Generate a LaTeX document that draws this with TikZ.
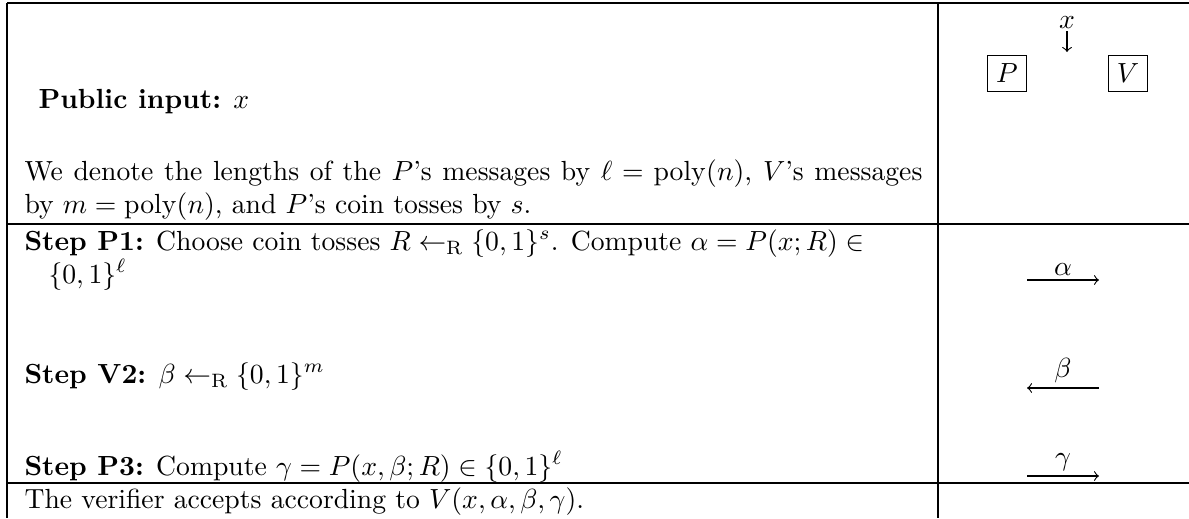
\documentclass[tikz,border=0pt]{standalone}
\usepackage{amsmath}

\begin{document}
\begin{tikzpicture}[x=0.3614pt, y=-0.3614pt,
    rowtext/.style={anchor=base west, inner sep=0pt},
    party/.style={draw, line width=0.4pt, inner sep=3pt},
    msg/.style={->, line width=0.4pt}]
    \useasboundingbox (0,0) rectangle (1189,518);

    % Table rules
    \draw (7,3) -- (1189,3);
    \draw (7,224) -- (1189,224);
    \draw (7,483) -- (1189,483);
    \draw (7,3) -- (7,518);
    \draw (938,3) -- (938,518);

    % Left column: header
    \node[rowtext] (pubin) at (38,108) {\textbf{Public input:} $x$};
    \node[rowtext] (note1) at (24,180) {\hbox to 324.5pt{We denote the lengths of the $P$'s messages by $\ell=\mathrm{poly}(n)$, $V$'s messages}};
    \node[rowtext] (note2) at (24,213) {by $m=\mathrm{poly}(n)$, and $P$'s coin tosses by $s$.};

    % Left column: steps
    \node[rowtext] (stepPa) at (24,250) {\textbf{Step P1:} Choose coin tosses $R \leftarrow_{\mathrm{R}} \{0,1\}^s$. Compute $\alpha=P(x;R)\in$};
    \node[rowtext] (stepPb) at (48,283) {$\{0,1\}^\ell$};
    \node[rowtext] (stepV) at (24,383) {\textbf{Step V2:} $\beta \leftarrow_{\mathrm{R}} \{0,1\}^m$};
    \node[rowtext] (stepPc) at (24,475) {\textbf{Step P3:} Compute $\gamma=P(x,\beta;R)\in\{0,1\}^\ell$};
    \node[rowtext] (verdict) at (24,508) {The verifier accepts according to $V(x,\alpha,\beta,\gamma)$.};

    % Right column: parties and input
    \node[party] (boxP) at (1007,73.5) {$P$};
    \node[party] (boxV) at (1128,73.5) {$V$};
    \node[anchor=base, inner sep=1pt] (xin) at (1067,28) {$x$};
    \coordinate (xend) at (1067,52);
    \draw[msg] (xin.south) -- (xend);

    % Right column: messages
    \coordinate (alphaL) at (1027,280);
    \coordinate (alphaR) at (1099,280);
    \coordinate (betaL) at (1027,388);
    \coordinate (betaR) at (1099,388);
    \coordinate (gammaL) at (1027,476);
    \coordinate (gammaR) at (1099,476);
    \draw[msg] (alphaL) -- (alphaR) node[midway, above, inner sep=1.5pt] {$\alpha$};
    \draw[msg] (betaR) -- (betaL) node[midway, above, inner sep=1.5pt] {$\beta$};
    \draw[msg] (gammaL) -- (gammaR) node[midway, above, inner sep=1.5pt] {$\gamma$};
\end{tikzpicture}
\end{document}
